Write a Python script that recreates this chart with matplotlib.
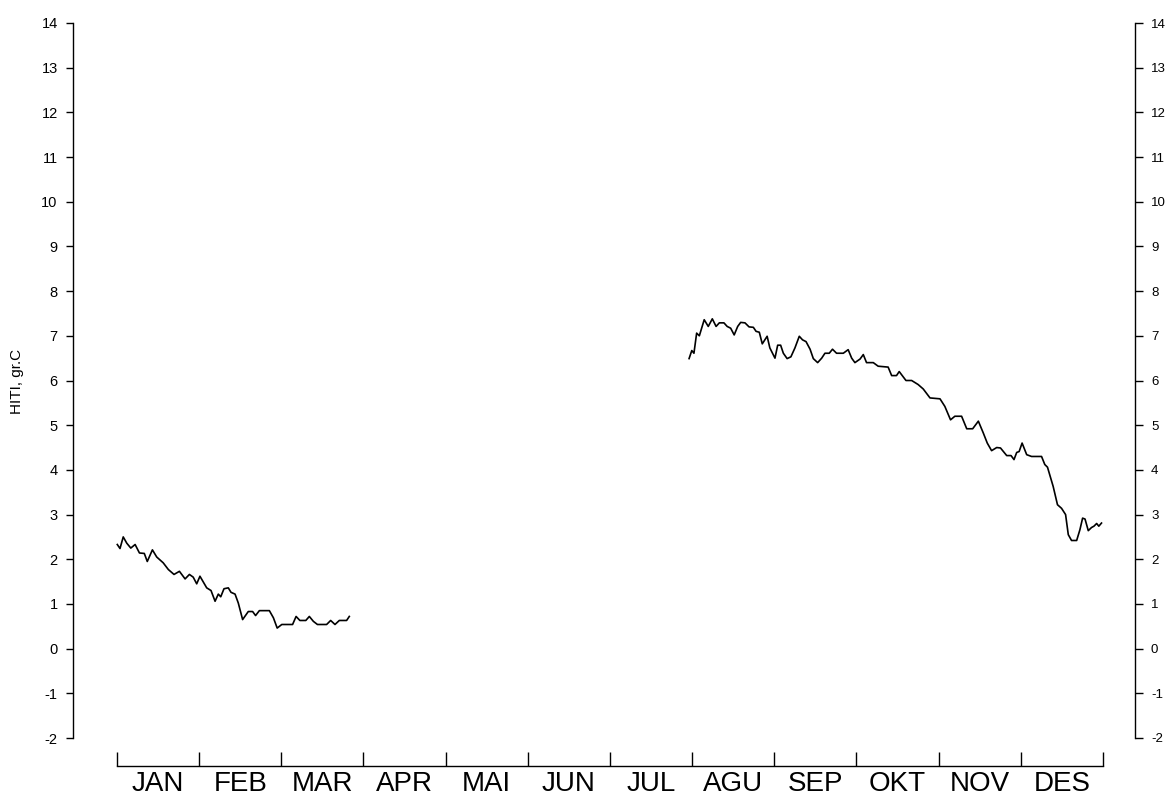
"""
Daily water temperature (HITI, gr.C) through the year, two record periods
(Jan-Mar and Aug-Des), values read off the scanned chart.
"""

import matplotlib
matplotlib.use('Agg')
import matplotlib.pyplot as plt
import numpy as np

plt.rcParams['font.family'] = ['Liberation Sans', 'DejaVu Sans']
plt.rcParams['axes.unicode_minus'] = False

months = ['JAN', 'FEB', 'MAR', 'APR', 'MAI', 'JUN', 'JUL',
          'AGU', 'SEP', 'OKT', 'NOV', 'DES']

# first period, day of year / temperature
day1 = [0.1, 1.1, 2.3, 3.6, 5.1, 6.7, 8.3, 10.1, 11.2, 13.1,
        14.7, 17.1, 19.0, 21.1, 23.1, 25.2, 26.8, 28.2, 29.5, 30.7,
        33.2, 34.8, 36.3, 37.5, 38.4, 39.6, 41.2, 42.2, 43.7, 44.9,
        46.5, 48.6, 50.2, 51.3, 52.7, 56.4, 57.9, 59.3, 61.0, 65.0,
        66.3, 67.7, 69.9, 71.2, 72.7, 74.2, 77.6, 79.1, 80.7, 82.3,
        85.0, 86.0]
temp1 = [2.33, 2.24, 2.50, 2.36, 2.25, 2.33, 2.14, 2.13, 1.95, 2.21,
         2.05, 1.92, 1.77, 1.66, 1.73, 1.56, 1.66, 1.60, 1.45, 1.62,
         1.36, 1.30, 1.06, 1.22, 1.16, 1.34, 1.36, 1.26, 1.22, 1.02,
         0.65, 0.83, 0.83, 0.74, 0.85, 0.85, 0.69, 0.46, 0.54, 0.54,
         0.72, 0.63, 0.63, 0.72, 0.61, 0.54, 0.54, 0.63, 0.54, 0.63,
         0.63, 0.72]

# second period
day2 = [211.8, 212.8, 213.6, 214.6, 215.6, 217.4, 218.9, 220.4, 221.8, 223.0,
        224.7, 225.9, 227.2, 228.5, 229.8, 230.9, 232.5, 234.0, 235.6, 236.6,
        237.8, 238.9, 240.7, 241.7, 243.6, 244.6, 245.7, 246.7, 248.1, 249.5,
        251.0, 252.6, 253.8, 255.1, 256.6, 257.8, 259.4, 260.9, 262.1, 263.7,
        264.9, 266.4, 268.9, 270.7, 272.0, 273.2, 275.1, 276.3, 277.5, 280.0,
        281.8, 285.5, 286.8, 288.6, 289.6, 292.1, 294.2, 296.6, 298.5, 301.0,
        304.7, 306.5, 308.6, 310.2, 312.7, 314.6, 316.8, 318.9, 320.7, 322.2,
        323.8, 325.7, 327.1, 329.4, 331.0, 332.1, 333.1, 334.0, 335.1, 336.8,
        338.6, 342.3, 343.5, 344.5, 346.6, 348.2, 349.7, 351.2, 352.2, 353.4,
        355.3, 356.5, 357.5, 358.4, 359.6, 360.8, 361.7, 362.7, 363.5, 364.5]
temp2 = [6.49, 6.67, 6.61, 7.06, 7.00, 7.36, 7.21, 7.38, 7.21, 7.29,
         7.29, 7.21, 7.17, 7.02, 7.21, 7.30, 7.29, 7.20, 7.19, 7.10,
         7.08, 6.82, 6.99, 6.73, 6.50, 6.79, 6.79, 6.61, 6.49, 6.53,
         6.73, 6.99, 6.91, 6.87, 6.70, 6.49, 6.40, 6.50, 6.61, 6.61,
         6.70, 6.61, 6.61, 6.69, 6.50, 6.40, 6.48, 6.58, 6.40, 6.40,
         6.32, 6.30, 6.11, 6.11, 6.20, 6.00, 6.00, 5.91, 5.81, 5.61,
         5.59, 5.42, 5.12, 5.20, 5.20, 4.92, 4.92, 5.09, 4.83, 4.60,
         4.43, 4.50, 4.49, 4.32, 4.32, 4.23, 4.39, 4.41, 4.60, 4.34,
         4.30, 4.30, 4.12, 4.06, 3.63, 3.22, 3.14, 3.00, 2.55, 2.42,
         2.42, 2.66, 2.92, 2.90, 2.64, 2.71, 2.74, 2.80, 2.74, 2.81]

yticks = list(range(-2, 15))

W, H = 1173, 795
fig = plt.figure(figsize=(W / 100, H / 100), dpi=100)
ax = fig.add_axes([73 / W, 57 / H, (1135 - 73) / W, 715 / H])

ax.plot(day1, temp1, color='black', lw=1.2)
ax.plot(day2, temp2, color='black', lw=1.2)

ax.set_xlim(-16.3, 376.9)
ax.set_ylim(-2, 14)

# left axis
ax.spines['top'].set_visible(False)
ax.spines['right'].set_visible(False)
ax.spines['left'].set_linewidth(1.0)
ax.set_yticks(yticks)
ax.tick_params(axis='y', direction='out', length=5, width=1.0,
               labelsize=10.5, pad=6)
ax.set_ylabel('HITI, gr.C', fontsize=11)
ax.yaxis.set_label_coords(-0.046, 0.498)

# bottom month axis, detached below the plot
ax.spines['bottom'].set_position(('outward', 20))
ax.spines['bottom'].set_bounds(0, 365)
ax.spines['bottom'].set_linewidth(1.0)
bounds = np.arange(13) * 365 / 12
ax.set_xticks(bounds)
ax.set_xticklabels([''] * 13)
ax.set_xticks(bounds[:-1] + 365 / 24, minor=True)
ax.set_xticklabels(months, minor=True, fontsize=20)
ax.tick_params(axis='x', which='major', direction='in', length=10, width=1.0)
ax.tick_params(axis='x', which='minor', length=0, pad=3.5)

# right axis
ax2 = ax.twinx()
ax2.set_ylim(-2, 14)
ax2.set_yticks(yticks)
for s in ['top', 'left', 'bottom']:
    ax2.spines[s].set_visible(False)
ax2.spines['right'].set_linewidth(1.0)
ax2.tick_params(axis='y', direction='out', length=5.5, width=1.0,
                labelsize=9.5, pad=6)

fig.savefig('out.png', dpi=100)
